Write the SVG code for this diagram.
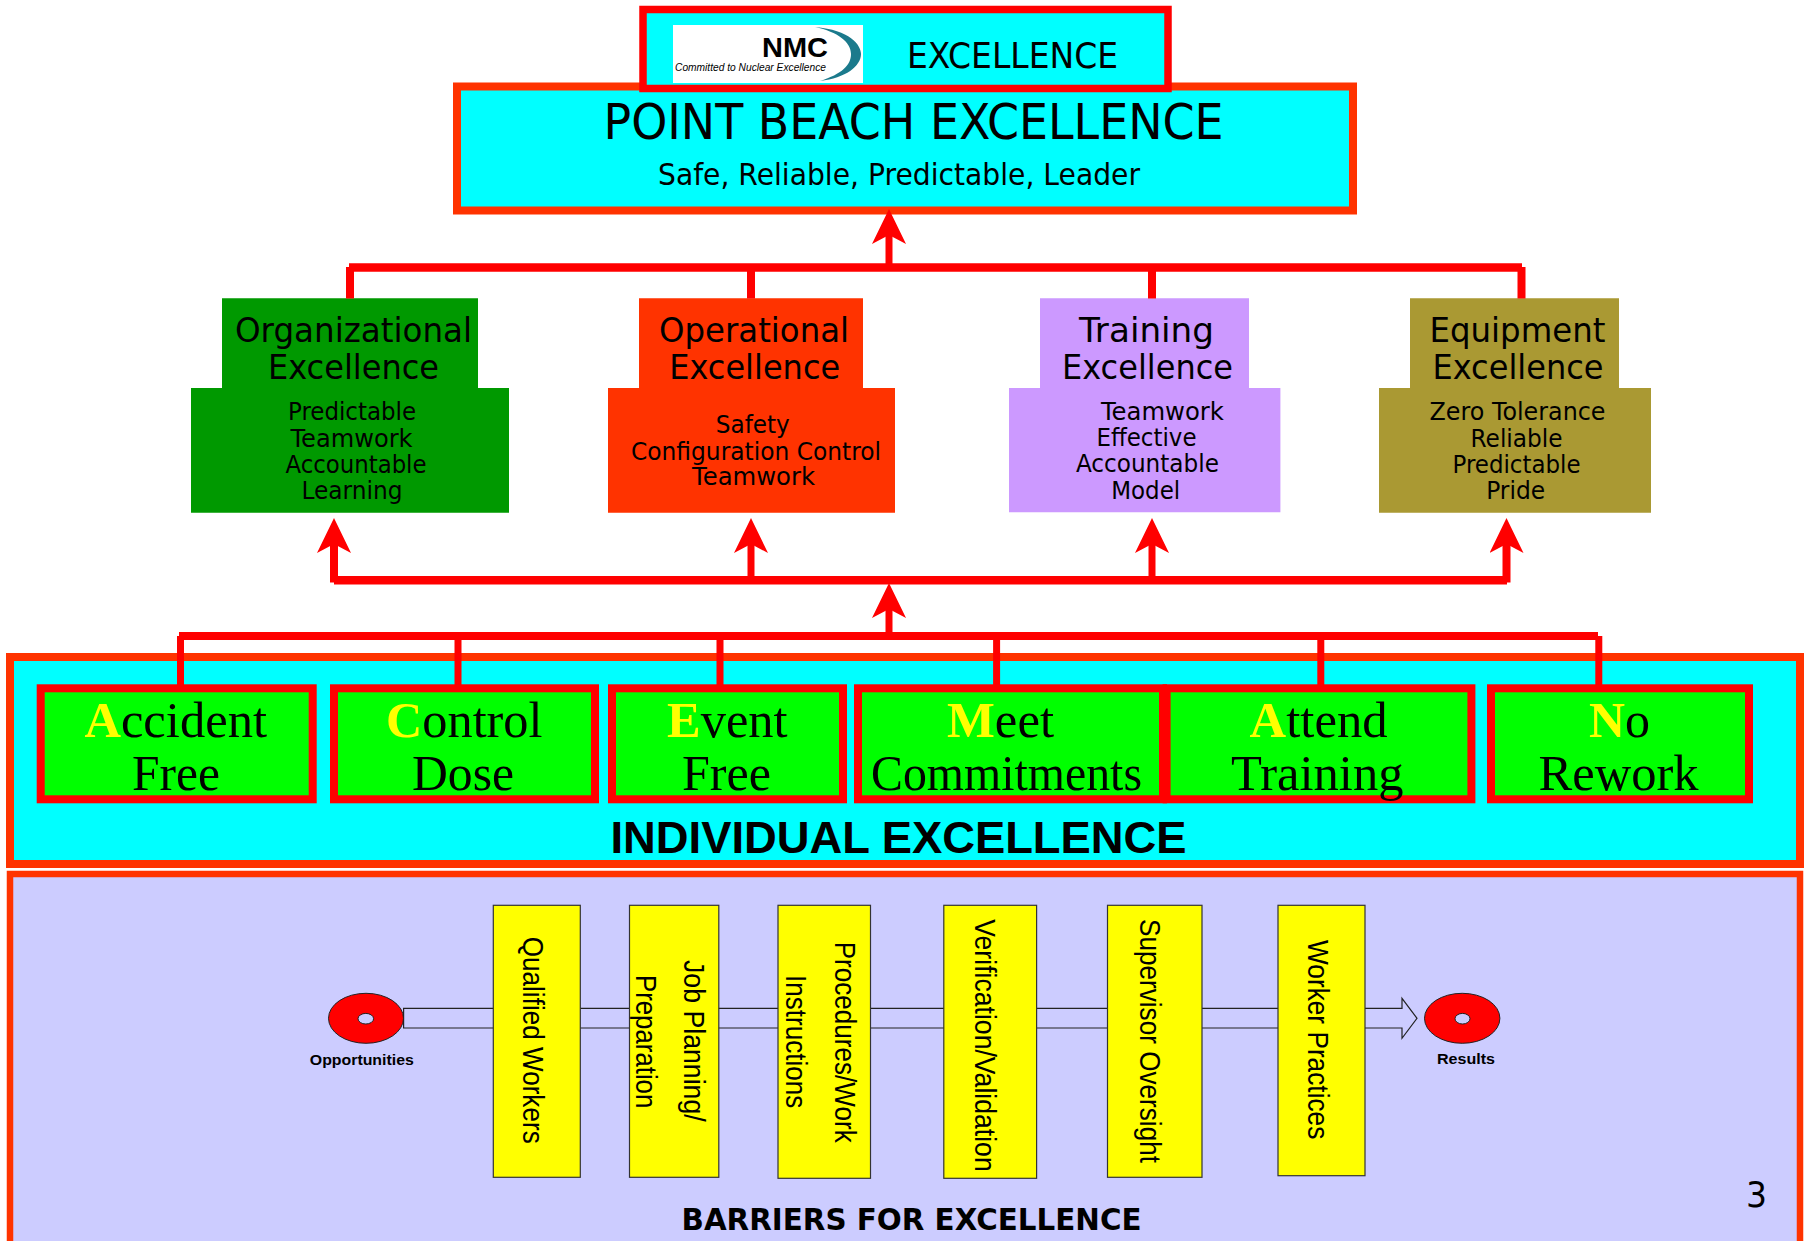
<svg xmlns="http://www.w3.org/2000/svg" width="1804" height="1241" viewBox="0 0 1804 1241">
<style>
text{fill:#000}
.t{font-family:"DejaVu Sans","Liberation Sans",sans-serif}
.tb{font-family:"DejaVu Sans","Liberation Sans",sans-serif;font-weight:bold}
.s{font-family:"Liberation Serif",serif;font-size:50px}
.y{fill:#ff0;font-weight:bold}
.a{font-family:"Liberation Sans",Arial,sans-serif}
.v{font-size:29.5px}
.h{font-size:34px}
.u{font-size:24px}
.bar{fill:#0ff;stroke:#f30;stroke-width:8}
.act{fill:#0f0;stroke:#f00;stroke-width:8}
.yb{fill:#ff0;stroke:#333;stroke-width:1.2}
.red{fill:#f00;stroke:#222;stroke-width:1}
.hole{fill:#ccf;stroke:#222;stroke-width:1}
.c{fill:none;stroke:#f00;stroke-width:8}
.c7{fill:none;stroke:#f00;stroke-width:7}
</style>
<defs>
<marker id="head" markerUnits="userSpaceOnUse" markerWidth="36" markerHeight="36" viewBox="0 0 36 36" refX="9" refY="17" orient="auto">
<path d="M0 0L35 17L0 34L9 17Z" fill="#f00"/>
</marker>
</defs>

<g id="point-beach">
<rect class="bar" x="457" y="86.5" width="896" height="124"/>
<text class="t" x="603.5" y="138.7" font-size="49" textLength="620" lengthAdjust="spacingAndGlyphs">POINT BEACH EXCELLENCE</text>
<text class="t" x="658" y="185" font-size="30" textLength="482" lengthAdjust="spacingAndGlyphs">Safe, Reliable, Predictable, Leader</text>
</g>
<g id="nmc-excellence">
<rect x="643" y="9.5" width="525" height="79" fill="#0ff" stroke="#f00" stroke-width="7.5"/>
<rect x="673" y="25" width="190" height="58" fill="#fff"/>
<path d="M815 27C850 30 861 45 861 54C861 66 846 78 820 81C842 74 851 65 851 54C851 42 838 32 815 27Z" fill="#1b7a8c"/>
<text class="a" x="762" y="57.3" font-size="28" font-weight="bold" textLength="66" lengthAdjust="spacingAndGlyphs">NMC</text>
<text class="a" x="675" y="70.7" font-size="11" font-style="italic" fill="#222" textLength="151" lengthAdjust="spacingAndGlyphs">Committed to Nuclear Excellence</text>
<text class="t" x="907" y="68" font-size="36" textLength="211" lengthAdjust="spacingAndGlyphs">EXCELLENCE</text>
</g>

<g id="organizational">
<path d="M222 298.3H478V388H509V512.7H191V388H222Z" fill="#090"/>
<text class="t h" x="235" y="341.7" textLength="237" lengthAdjust="spacingAndGlyphs">Organizational</text>
<text class="t h" x="268" y="378.7" textLength="171" lengthAdjust="spacingAndGlyphs">Excellence</text>
<text class="t u" x="288" y="419.7" textLength="128" lengthAdjust="spacingAndGlyphs">Predictable</text>
<text class="t u" x="290.5" y="446.7" textLength="122" lengthAdjust="spacingAndGlyphs">Teamwork</text>
<text class="t u" x="285.5" y="472.7" textLength="141" lengthAdjust="spacingAndGlyphs">Accountable</text>
<text class="t u" x="301.5" y="498.7" textLength="101" lengthAdjust="spacingAndGlyphs">Learning</text>
</g>
<g id="operational">
<path d="M639 298.3H863V388H895V512.7H608V388H639Z" fill="#f30"/>
<text class="t h" x="659" y="341.7" textLength="190" lengthAdjust="spacingAndGlyphs">Operational</text>
<text class="t h" x="669.2" y="378.7" textLength="171" lengthAdjust="spacingAndGlyphs">Excellence</text>
<text class="t u" x="715.8" y="433" textLength="74" lengthAdjust="spacingAndGlyphs">Safety</text>
<text class="t u" x="631" y="459.7" textLength="250" lengthAdjust="spacingAndGlyphs">Configuration Control</text>
<text class="t u" x="692" y="485.3" textLength="123" lengthAdjust="spacingAndGlyphs">Teamwork</text>
</g>
<g id="training">
<path d="M1040 298.3H1249V388H1280.4V512.2H1009V388H1040Z" fill="#c9f"/>
<text class="t h" x="1079" y="341.7" textLength="135" lengthAdjust="spacingAndGlyphs">Training</text>
<text class="t h" x="1062" y="378.7" textLength="171" lengthAdjust="spacingAndGlyphs">Excellence</text>
<text class="t u" x="1100.9" y="419.7" textLength="123" lengthAdjust="spacingAndGlyphs">Teamwork</text>
<text class="t u" x="1096.5" y="446" textLength="100" lengthAdjust="spacingAndGlyphs">Effective</text>
<text class="t u" x="1075.9" y="472" textLength="143" lengthAdjust="spacingAndGlyphs">Accountable</text>
<text class="t u" x="1111.2" y="498.7" textLength="69" lengthAdjust="spacingAndGlyphs">Model</text>
</g>
<g id="equipment">
<path d="M1410 298.3H1619V388H1651V512.7H1379V388H1410Z" fill="#a93"/>
<text class="t h" x="1429.5" y="341.7" textLength="176" lengthAdjust="spacingAndGlyphs">Equipment</text>
<text class="t h" x="1432.5" y="378.7" textLength="171" lengthAdjust="spacingAndGlyphs">Excellence</text>
<text class="t u" x="1429.5" y="419.7" textLength="176" lengthAdjust="spacingAndGlyphs">Zero Tolerance</text>
<text class="t u" x="1470.5" y="446.7" textLength="92" lengthAdjust="spacingAndGlyphs">Reliable</text>
<text class="t u" x="1452.5" y="472.7" textLength="128" lengthAdjust="spacingAndGlyphs">Predictable</text>
<text class="t u" x="1486.2" y="498.7" textLength="59" lengthAdjust="spacingAndGlyphs">Pride</text>
</g>

<g id="individual-excellence">
<rect class="bar" x="10" y="657" width="1790" height="207"/>
<text class="a" x="610.5" y="853" font-size="44" font-weight="bold" textLength="576" lengthAdjust="spacingAndGlyphs">INDIVIDUAL EXCELLENCE</text>
</g>
<g id="accident-free">
<rect class="act" x="40.7" y="688.3" width="272" height="111"/>
<text class="s" x="84.4" y="737" textLength="182.6" lengthAdjust="spacingAndGlyphs"><tspan class="y">A</tspan>ccident</text>
<text class="s" x="132" y="789.5" textLength="88" lengthAdjust="spacingAndGlyphs">Free</text>
</g>
<g id="control-dose">
<rect class="act" x="334" y="688.3" width="261" height="111"/>
<text class="s" x="386" y="737" textLength="156.5" lengthAdjust="spacingAndGlyphs"><tspan class="y">C</tspan>ontrol</text>
<text class="s" x="412" y="789.5" textLength="102" lengthAdjust="spacingAndGlyphs">Dose</text>
</g>
<g id="event-free">
<rect class="act" x="612" y="688.3" width="231" height="111"/>
<text class="s" x="667" y="737" textLength="120.6" lengthAdjust="spacingAndGlyphs"><tspan class="y">E</tspan>vent</text>
<text class="s" x="682" y="789.5" textLength="89" lengthAdjust="spacingAndGlyphs">Free</text>
</g>
<g id="meet-commitments">
<rect class="act" x="858" y="688.3" width="305" height="111"/>
<text class="s" x="947" y="737" textLength="107" lengthAdjust="spacingAndGlyphs"><tspan class="y">M</tspan>eet</text>
<text class="s" x="871" y="789.5" textLength="271" lengthAdjust="spacingAndGlyphs">Commitments</text>
</g>
<g id="attend-training">
<rect class="act" x="1166.6" y="688.3" width="304.8" height="111"/>
<text class="s" x="1249.6" y="737" textLength="138" lengthAdjust="spacingAndGlyphs"><tspan class="y">A</tspan>ttend</text>
<text class="s" x="1231" y="789.5" textLength="172.5" lengthAdjust="spacingAndGlyphs">Training</text>
</g>
<g id="no-rework">
<rect class="act" x="1491" y="688.3" width="258" height="111"/>
<text class="s" x="1589" y="737" textLength="61" lengthAdjust="spacingAndGlyphs"><tspan class="y">N</tspan>o</text>
<text class="s" x="1538.6" y="789.5" textLength="160" lengthAdjust="spacingAndGlyphs">Rework</text>
</g>

<g id="barriers-panel">
<rect x="10" y="874" width="1790" height="367" fill="#ccf"/>
<path d="M10 1241V874H1800V1241" fill="none" stroke="#f30" stroke-width="6.5"/>
<text class="tb" x="681.5" y="1230" font-size="30" textLength="460" lengthAdjust="spacingAndGlyphs">BARRIERS FOR EXCELLENCE</text>
<text class="t" x="1746" y="1206.7" font-size="36" textLength="21" lengthAdjust="spacingAndGlyphs">3</text>
</g>

<g id="connectors">
<path class="c" d="M349 267.5H1522" style="stroke-width:8.5"/>
<path class="c" d="M350 267V298.5M751 267V298.5M1152 267V298.5M1521.5 267V298.5"/>
<path class="c7" d="M889 267V235" marker-end="url(#head)"/>
<path class="c" d="M334 580.3H1507" style="stroke-width:8.5"/>
<path class="c" d="M334 582.5V544" marker-end="url(#head)"/>
<path class="c7" d="M751 580V544" marker-end="url(#head)"/>
<path class="c7" d="M1152 580V544" marker-end="url(#head)"/>
<path class="c" d="M1506.5 582.5V544" marker-end="url(#head)"/>
<path class="c7" d="M889 636V609" marker-end="url(#head)"/>
<path class="c" d="M179 636H1598"/>
<path class="c7" d="M180.5 636V685M458 636V685M720 636V685M996.6 636V685M1320.8 636V685M1598.8 636V685"/>
</g>

<g id="barrier-flow">
<path d="M403.6 1008.3H1402V998.3L1417 1018.3L1402 1038.3V1028H403.6Z" fill="#ccf" stroke="#222" stroke-width="1.2"/>
</g>
<g id="opportunities">
<ellipse class="red" cx="366" cy="1018.3" rx="37.5" ry="25"/>
<ellipse class="hole" cx="365.8" cy="1018.7" rx="7.8" ry="5.3"/>
<text class="a" x="309.8" y="1065" font-size="15" font-weight="bold" textLength="104" lengthAdjust="spacingAndGlyphs">Opportunities</text>
</g>
<g id="results">
<ellipse class="red" cx="1462.2" cy="1018.3" rx="37.7" ry="25"/>
<ellipse class="hole" cx="1462.5" cy="1018.7" rx="7.5" ry="5.3"/>
<text class="a" x="1437" y="1064" font-size="15" font-weight="bold" textLength="58" lengthAdjust="spacingAndGlyphs">Results</text>
</g>
<g id="qualified-workers">
<rect class="yb" x="493.3" y="905.3" width="87" height="272"/>
<text class="a v" transform="translate(523 936.7) rotate(90)" textLength="207" lengthAdjust="spacingAndGlyphs">Qualified Workers</text>
</g>
<g id="job-planning">
<rect class="yb" x="629.5" y="905.3" width="89.3" height="272"/>
<text class="a v" transform="translate(684 960) rotate(90)" textLength="161.7" lengthAdjust="spacingAndGlyphs">Job Planning/</text>
<text class="a v" transform="translate(636 975) rotate(90)" textLength="133.3" lengthAdjust="spacingAndGlyphs">Preparation</text>
</g>
<g id="procedures">
<rect class="yb" x="778" y="905.3" width="92.5" height="273"/>
<text class="a v" transform="translate(834.8 941.7) rotate(90)" textLength="201" lengthAdjust="spacingAndGlyphs">Procedures/Work</text>
<text class="a v" transform="translate(785.6 975) rotate(90)" textLength="133.3" lengthAdjust="spacingAndGlyphs">Instructions</text>
</g>
<g id="verification">
<rect class="yb" x="943.8" y="905.3" width="92.8" height="273"/>
<text class="a v" transform="translate(975.3 919.3) rotate(90)" textLength="252.4" lengthAdjust="spacingAndGlyphs">Verification/Validation</text>
</g>
<g id="supervisor">
<rect class="yb" x="1107.5" y="905.3" width="94.5" height="272"/>
<text class="a v" transform="translate(1140.3 919) rotate(90)" textLength="244" lengthAdjust="spacingAndGlyphs">Supervisor Oversight</text>
</g>
<g id="worker-practices">
<rect class="yb" x="1278" y="905.3" width="87" height="270.4"/>
<text class="a v" transform="translate(1308.4 940) rotate(90)" textLength="199.3" lengthAdjust="spacingAndGlyphs">Worker Practices</text>
</g>
</svg>
